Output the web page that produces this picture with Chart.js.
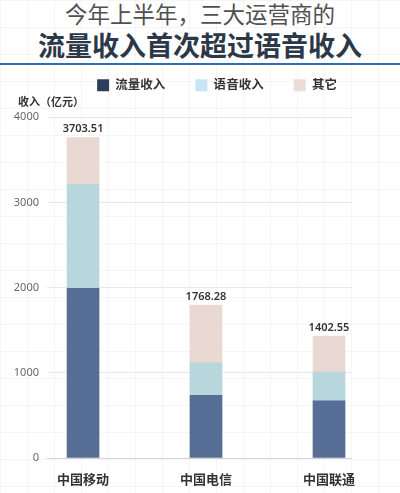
<!DOCTYPE html>
<html>
<head>
<meta charset="utf-8">
<script src="https://cdn.jsdelivr.net/npm/chart.js@4/dist/chart.umd.min.js"></script>
<style>
  html, body { margin: 0; padding: 0; }
  body {
    width: 400px; height: 493px; position: relative; overflow: hidden;
    background-color: #fff;
    background-image:
      linear-gradient(to right, rgba(0,0,0,0.035) 1px, transparent 1px),
      linear-gradient(to bottom, rgba(0,0,0,0.035) 1px, transparent 1px);
    background-size: 27px 27px;
    font-family: "Noto Sans", "Noto Sans CJK SC", sans-serif;
  }
  .head { position: absolute; left: 0; top: 0; width: 400px; text-align: center; }
  .head .l1 { position: absolute; left: 0; width: 400px; top: 1px; font-size: 22.5px; line-height: 28px; font-weight: normal; color: #505050; }
  .head .l2 { position: absolute; left: 0; width: 400px; top: 29px; font-size: 27px; line-height: 34px; font-weight: bold; color: #2c3748; }
  .rule { position: absolute; left: 0; top: 63px; width: 400px; height: 2px; background: #2d6db3; }
  #wrap { position: absolute; left: 0; top: 0; width: 400px; height: 493px; }
</style>
</head>
<body>
<div class="head">
  <div class="l1">今年上半年，三大运营商的</div>
  <div class="l2">流量收入首次超过语音收入</div>
</div>
<div class="rule"></div>
<div id="wrap"><canvas id="chart"></canvas></div>
<script>
// ===== DATA =====
const companies = ['中国移动', '中国电信', '中国联通'];
const seriesNames = ['流量收入', '语音收入', '其它'];
const trafficRevenue = [1990, 736, 671];
const voiceRevenue = [1222, 382, 336];
const otherRevenue = [548, 677, 424];
const totalLabels = ['3703.51', '1768.28', '1402.55'];
const yTicks = [0, 1000, 2000, 3000, 4000];

const barColors = ['#566e96', '#b8d7dc', '#ead9d3'];
const legendColors = ['#2c3d5c', '#c8e4f2', '#ecdcd8'];
const FONT = '"Noto Sans", "Noto Sans CJK SC", sans-serif';

const toPoints = arr => arr.map((v, i) => ({ x: i, y: v }));

// labels with stack totals above each bar
const totalsPlugin = {
  id: 'totals',
  afterDatasetsDraw(chart) {
    const { ctx, scales } = chart;
    ctx.save();
    ctx.font = '600 11px ' + FONT;
    ctx.fillStyle = '#333';
    ctx.textAlign = 'center';
    ctx.textBaseline = 'bottom';
    companies.forEach((c, i) => {
      const sum = trafficRevenue[i] + voiceRevenue[i] + otherRevenue[i];
      const x = scales.x.getPixelForValue(i);
      const y = scales.y.getPixelForValue(sum);
      ctx.fillText(totalLabels[i], x, y - 3);
    });
    ctx.restore();
  }
};

// nudge legend and unit title to where the original has them
const boxShift = {
  id: 'boxShift',
  afterLayout(chart) {
    if (chart.legend) {
      chart.legend.left += 36;
      chart.legend.right += 36;
    }
    if (chart.titleBlock) {
      chart.titleBlock.left += 8;
      chart.titleBlock.right += 8;
    }
  }
};

new Chart(document.getElementById('chart'), {
  type: 'bar',
  data: {
    datasets: [
      { label: seriesNames[0], data: toPoints(trafficRevenue), backgroundColor: barColors[0] },
      { label: seriesNames[1], data: toPoints(voiceRevenue), backgroundColor: barColors[1] },
      { label: seriesNames[2], data: toPoints(otherRevenue), backgroundColor: barColors[2] }
    ]
  },
  options: {
    responsive: true,
    maintainAspectRatio: false,
    animation: false,
    barThickness: 32,
    layout: { padding: { top: 49, left: 10, right: 48, bottom: 0 } },
    plugins: {
      legend: {
        position: 'top',
        maxHeight: 47,
        labels: {
          boxWidth: 12,
          boxHeight: 12,
          padding: 30,
          color: '#333',
          font: { family: FONT, size: 12.5, weight: 'bold' },
          generateLabels(chart) {
            return Chart.defaults.plugins.legend.labels.generateLabels(chart).map((l, i) => ({
              ...l, fillStyle: legendColors[i], strokeStyle: legendColors[i], lineWidth: 0
            }));
          }
        }
      },
      title: {
        display: true,
        text: '收入（亿元）',
        align: 'start',
        weight: 500,
        color: '#333',
        font: { family: FONT, size: 11, weight: 'bold' },
        padding: { top: 0, bottom: 8 }
      },
      tooltip: { enabled: false }
    },
    scales: {
      x: {
        type: 'linear',
        stacked: true,
        offset: false,
        min: -0.293,
        max: 2.187,
        afterBuildTicks: scale => { scale.ticks = companies.map((c, i) => ({ value: i })); },
        afterFit: scale => { scale.height = 35; },
        grid: { display: false, drawTicks: false },
        border: { display: false },
        ticks: {
          padding: 14,
          maxRotation: 0,
          color: '#333',
          font: { family: FONT, size: 13, weight: 'bold' },
          callback: v => companies[v]
        }
      },
      y: {
        stacked: true,
        min: yTicks[0],
        max: yTicks[yTicks.length - 1],
        afterBuildTicks: scale => { scale.ticks = yTicks.map(v => ({ value: v })); },
        afterFit: scale => { scale.width = 37; },
        border: { display: false },
        grid: {
          drawTicks: false,
          color: ctx => ctx.tick && ctx.tick.value === 0 ? '#d4d4d4' : '#e8e8e8'
        },
        ticks: {
          padding: 8,
          color: '#666',
          font: { family: FONT, size: 11 },
          callback: v => String(v)
        }
      }
    }
  },
  plugins: [totalsPlugin, boxShift]
});
</script>
</body>
</html>
